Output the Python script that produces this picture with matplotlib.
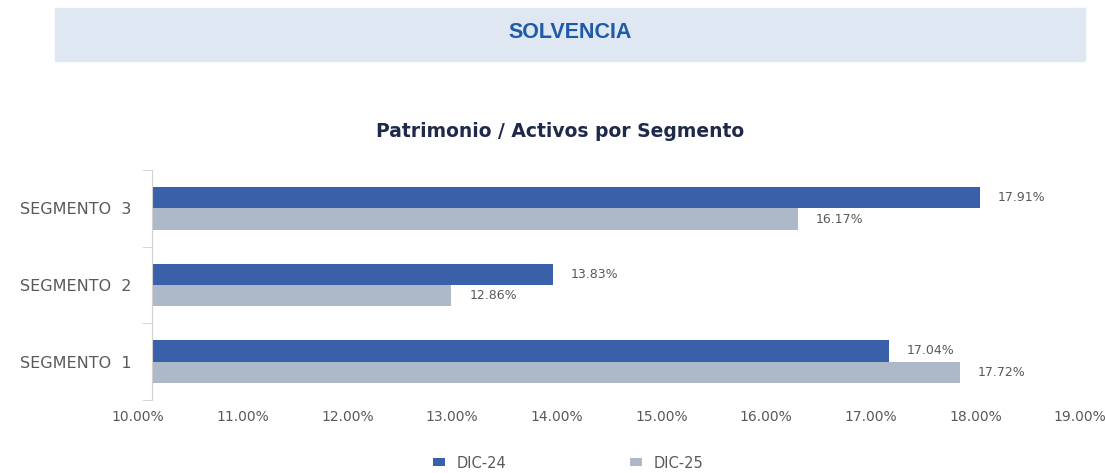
import matplotlib.pyplot as plt
from matplotlib.patches import Rectangle
import matplotlib.transforms as mtransforms

segmentos = ["SEGMENTO  1", "SEGMENTO  2", "SEGMENTO  3"]
dic24 = [17.04, 13.83, 17.91]
dic25 = [17.72, 12.86, 16.17]
xticks = [10, 11, 12, 13, 14, 15, 16, 17, 18, 19]

azul = "#3a60aa"
gris = "#adb8c8"
texto = "#595959"

plt.rcParams['font.family'] = ['DejaVu Sans']

fig = plt.figure(figsize=(11.05, 4.73), dpi=100)

# banner
fig.patches.append(Rectangle((55 / 1105, 1 - 61 / 473), 1030 / 1105, 53 / 473,
                             transform=fig.transFigure, color="#dee7f2", zorder=0))
fig.text(570 / 1105, 1 - 33 / 473, "SOLVENCIA", ha="center", va="center",
         fontsize=15.5, fontweight="bold", color="#1f5aa8",
         family="Liberation Sans")

fig.text(560 / 1105, 1 - 131 / 473, "Patrimonio / Activos por Segmento", ha="center",
         va="center", fontsize=13.5, fontweight="bold", color="#1f2a4a")

ax = fig.add_axes([152 / 1105, 1 - 400 / 473, 942 / 1105, 230 / 473])

y = range(len(segmentos))
h = 0.28
b1 = ax.barh([i + h / 2 for i in y], [v - 10 for v in dic24], left=10, height=h,
             color=azul, label="DIC-24")
b2 = ax.barh([i - h / 2 for i in y], [v - 10 for v in dic25], left=10, height=h,
             color=gris, label="DIC-25")

for bars, vals in ((b1, dic24), (b2, dic25)):
    for bar, v in zip(bars, vals):
        ax.annotate(f"{v:.2f}%", (v, bar.get_y() + bar.get_height() / 2),
                    xytext=(13, 0), textcoords="offset points", ha="left",
                    va="center", fontsize=9, color=texto)

ax.set_xlim(10, 19)
ax.set_ylim(-0.5, 2.5)
ax.set_xticks(xticks)
ax.set_xticklabels([f"{t:.2f}%" for t in xticks], fontsize=10, color=texto)
ax.tick_params(axis="x", length=0, pad=7)
ax.set_yticks(list(y))
ax.set_yticklabels(segmentos, fontsize=11.5, color=texto, ha="center")
ax.set_yticks([-0.5, 0.5, 1.5, 2.5], minor=True)
ax.tick_params(axis="y", which="major", length=0, pad=55)
ax.tick_params(axis="y", which="minor", length=7, color="#d0d0d0")

off = mtransforms.ScaledTranslation(-14 / 100, 0, fig.dpi_scale_trans)
for lab in ax.get_xticklabels():
    lab.set_transform(lab.get_transform() + off)

for s in ("top", "right", "bottom"):
    ax.spines[s].set_visible(False)
ax.spines["left"].set_color("#d0d0d0")

fig.legend(handles=[b1, b2], labels=["DIC-24", "DIC-25"], loc="center",
           bbox_to_anchor=(568 / 1105, 1 - 463 / 473), ncol=2, frameon=False,
           fontsize=10.5, handlelength=0.8, handleheight=0.5, columnspacing=8.5,
           labelcolor=texto)

fig.savefig("out.png", dpi=100)
